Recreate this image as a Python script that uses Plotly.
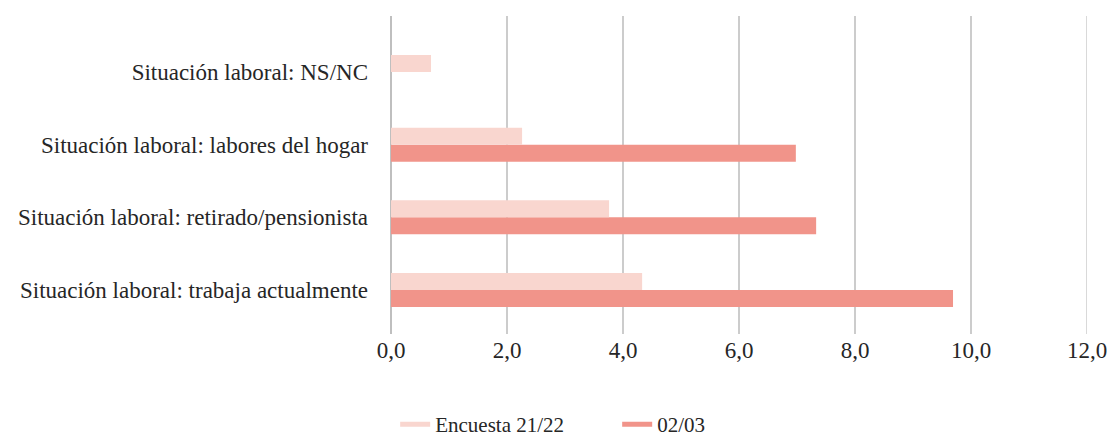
import plotly.graph_objects as go

categories = [
    "Situación laboral: trabaja actualmente",
    "Situación laboral: retirado/pensionista",
    "Situación laboral: labores del hogar",
    "Situación laboral: NS/NC",
]
encuesta_21_22 = [4.33, 3.76, 2.26, 0.69]
serie_02_03 = [9.69, 7.33, 6.98, None]

tick_vals = [0, 2, 4, 6, 8, 10, 12]
tick_text = ["0,0", "2,0", "4,0", "6,0", "8,0", "10,0", "12,0"]

light = "#F9D6CF"
salmon = "#F1948A"
grid = "#cccccc"
font_family = "Liberation Serif, DejaVu Serif, serif"

fig = go.Figure()

# bars: the second series is added first so it sits below in each group
fig.add_trace(go.Bar(y=categories, x=serie_02_03, orientation="h",
                     marker=dict(color=salmon, line=dict(width=0)),
                     name="02/03", showlegend=False))
fig.add_trace(go.Bar(y=categories, x=encuesta_21_22, orientation="h",
                     marker=dict(color=light, line=dict(width=0)),
                     name="Encuesta 21/22", showlegend=False))

# legend entries drawn as short thick lines
fig.add_trace(go.Scatter(x=[None], y=[None], mode="lines",
                         line=dict(color=light, width=5),
                         name="Encuesta 21/22"))
fig.add_trace(go.Scatter(x=[None], y=[None], mode="lines",
                         line=dict(color=salmon, width=5),
                         name="02/03"))

# gridline at the right end of the value axis
fig.add_shape(type="line", xref="x", yref="paper", x0=12, x1=12, y0=0, y1=1,
              line=dict(color=grid, width=1.5), layer="below")

fig.update_layout(
    width=1107, height=440,
    margin=dict(l=391, r=20, t=16, b=106, autoexpand=False),
    paper_bgcolor="white", plot_bgcolor="white",
    barmode="group", bargap=0.532, bargroupgap=0,
    font=dict(family=font_family, color="#262626"),
    showlegend=True,
    legend=dict(orientation="h", x=0.006, xanchor="left",
                yref="container", y=0.035, yanchor="middle",
                font=dict(size=21, color="#262626"), itemwidth=30,
                entrywidth=177, tracegroupgap=0),
    xaxis=dict(range=[0, 12], tickvals=tick_vals, ticktext=tick_text,
               automargin=False, ticklabeloverflow="allow",
               showgrid=True, gridcolor=grid, gridwidth=1.5,
               zeroline=True, zerolinecolor="#bfbfbf", zerolinewidth=1.5,
               showline=False, ticks="", tickfont=dict(size=23, color="#262626")),
    yaxis=dict(type="category", categoryorder="array", categoryarray=categories,
               automargin=False,
               range=[-0.605, 3.77], showgrid=False, zeroline=False,
               showline=False, ticks="", ticklabelstandoff=22,
               tickfont=dict(size=23, color="#262626")),
)

fig.write_html("out.html")
